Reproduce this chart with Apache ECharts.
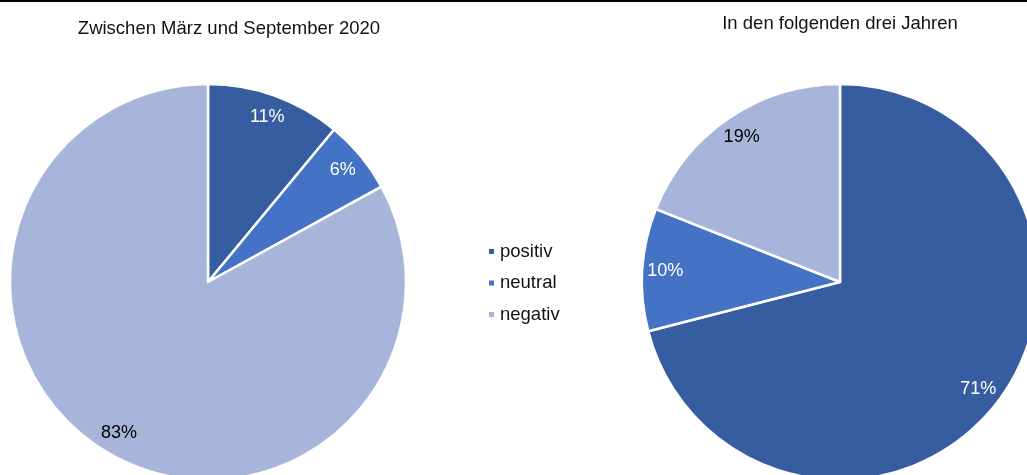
<!DOCTYPE html>
<html>
<head>
<meta charset="utf-8">
<style>
  html, body { margin: 0; padding: 0; background: #fff; }
  #chart { width: 1027px; height: 475px; }
</style>
<script src="https://cdn.jsdelivr.net/npm/echarts@6/dist/echarts.min.js"></script>
</head>
<body>
<div id="chart"></div>
<script>
// Categories and shares (percent)
const categories = ['positiv', 'neutral', 'negativ'];
const colors = ['#375DA1', '#4472C4', '#A8B5DA'];
const labelColors = ['#ffffff', '#ffffff', '#000000'];
const titles = ['Zwischen März und September 2020', 'In den folgenden drei Jahren'];
const sharesPast = [11, 6, 83];
const sharesFuture = [71, 10, 19];

const FONT = '"Liberation Sans", Arial, sans-serif';

function sliceData(values, withLabels) {
  return categories.map((name, i) => ({
    name: name,
    value: values[i],
    itemStyle: withLabels
      ? { color: 'rgba(0,0,0,0)', borderWidth: 0 }
      : { color: colors[i] },
    label: { color: labelColors[i] }
  }));
}

function pieSeries(values, cx) {
  return [
    {
      type: 'pie',
      center: [cx, 282],
      radius: [0, 198],
      startAngle: 90,
      clockwise: true,
      silent: true,
      itemStyle: { borderColor: '#ffffff', borderWidth: 2.5 },
      label: { show: false },
      labelLine: { show: false },
      data: sliceData(values, false)
    },
    {
      // transparent ring carrying the percentage labels near the rim
      type: 'pie',
      center: [cx, 282],
      radius: [146, 198],
      startAngle: 90,
      clockwise: true,
      silent: true,
      legendHoverLink: false,
      label: {
        show: true,
        position: 'inside',
        formatter: '{c}%',
        fontFamily: FONT,
        fontSize: 18
      },
      labelLine: { show: false },
      data: sliceData(values, true)
    }
  ];
}

const chart = echarts.init(document.getElementById('chart'), null, { renderer: 'canvas' });

chart.setOption({
  animation: false,
  color: colors,
  title: [
    {
      text: titles[0],
      left: 224, top: 14, textAlign: 'center',
      textStyle: { fontFamily: FONT, fontSize: 18.5, fontWeight: 'normal', color: '#111' }
    },
    {
      text: titles[1],
      left: 835, top: 9, textAlign: 'center',
      textStyle: { fontFamily: FONT, fontSize: 18.5, fontWeight: 'normal', color: '#111' }
    }
  ],
  legend: {
    orient: 'vertical',
    left: 482,
    top: 237,
    itemWidth: 7,
    itemHeight: 7,
    itemGap: 12.5,
    icon: 'rect',
    selectedMode: false,
    data: categories,
    textStyle: { fontFamily: FONT, fontSize: 18.5, lineHeight: 18, color: '#111' }
  },
  graphic: [
    {
      type: 'rect',
      shape: { x: 0, y: 0, width: 1027, height: 2 },
      style: { fill: '#000' },
      silent: true
    }
  ],
  series: [
    ...pieSeries(sharesPast, 208),
    ...pieSeries(sharesFuture, 840)
  ]
});
</script>
</body>
</html>
